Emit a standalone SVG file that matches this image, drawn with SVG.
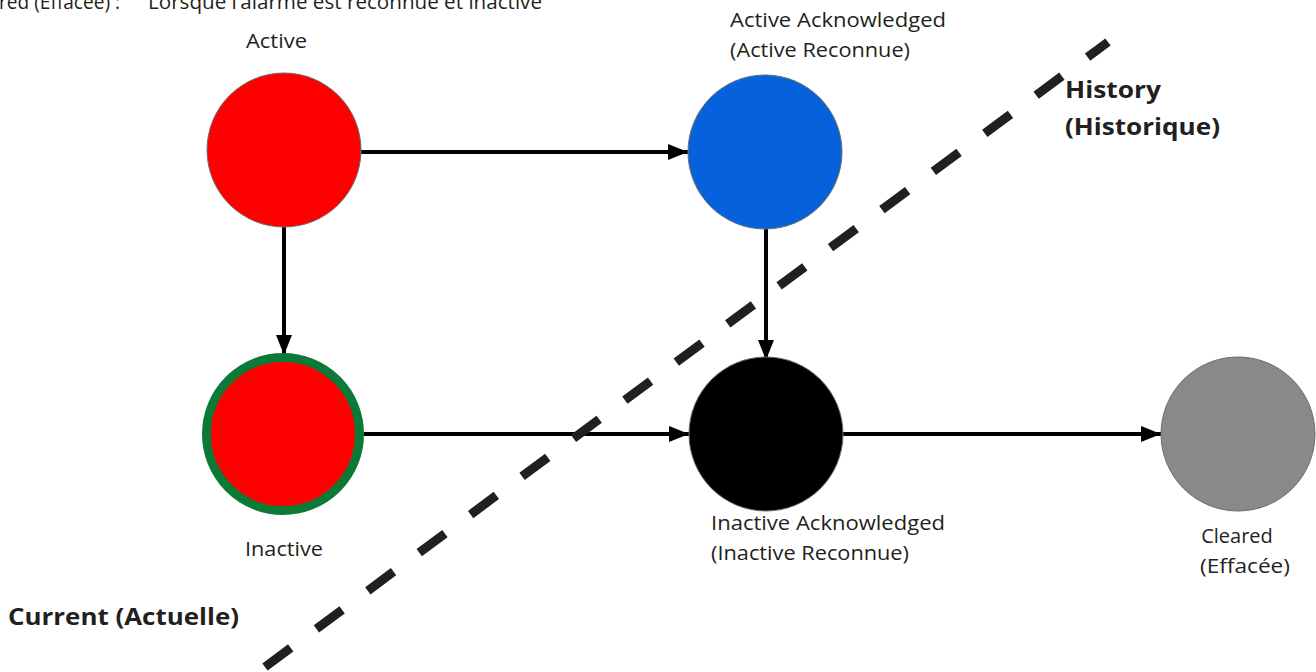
<svg xmlns="http://www.w3.org/2000/svg" width="1316" height="672" viewBox="0 0 1316 672">
  <style>
    .lbl { font-family: "Open Sans", "Noto Sans", sans-serif; font-size: 20px; fill: #231f20; }
    .bold { font-family: "Open Sans", "Noto Sans", sans-serif; font-size: 23px; font-weight: bold; fill: #231f20; }
    .node { stroke: #6d6d6d; stroke-width: 1; }
    .conn { stroke: #000; stroke-width: 4; fill: none; marker-end: url(#arrow); }
    .divider { stroke: #231f20; stroke-width: 9; fill: none; stroke-dasharray: 32 32; }
  </style>
  <defs>
    <marker id="arrow" markerUnits="userSpaceOnUse" markerWidth="22" markerHeight="18" refX="20" refY="8" orient="auto">
      <path d="M0,0 L20,8 L0,16 Z" fill="#000"/>
    </marker>
  </defs>
  <rect width="1316" height="672" fill="#fff"/>

  <text class="lbl" x="-1" y="9" textLength="121" lengthAdjust="spacingAndGlyphs">red (Effacée) :</text>
  <text class="lbl" x="148" y="9" textLength="394" lengthAdjust="spacingAndGlyphs">Lorsque l’alarme est reconnue et inactive</text>

  <g id="connectors">
    <line class="conn" x1="361" y1="152" x2="688" y2="152"/>
    <line class="conn" x1="284" y1="226" x2="284" y2="355"/>
    <line class="conn" x1="766" y1="227" x2="766" y2="360"/>
    <line class="conn" x1="364" y1="434" x2="689" y2="434"/>
    <line class="conn" x1="843" y1="434" x2="1161" y2="434"/>
  </g>

  <g id="divider">
    <line class="divider" x1="265" y1="667" x2="1108" y2="42"/>
  </g>

  <g id="node-active">
    <circle class="node" cx="284" cy="150" r="77" fill="#ff0000"/>
    <text class="lbl" x="246" y="48" textLength="61" lengthAdjust="spacingAndGlyphs">Active</text>
  </g>
  <g id="node-active-ack">
    <circle class="node" cx="765" cy="152" r="77" fill="#0562dc"/>
    <text class="lbl" x="730" y="27" textLength="216" lengthAdjust="spacingAndGlyphs">Active Acknowledged</text>
    <text class="lbl" x="730" y="57" textLength="180" lengthAdjust="spacingAndGlyphs">(Active Reconnue)</text>
  </g>
  <g id="node-inactive">
    <circle cx="283" cy="434" r="76.5" fill="#ff0000" stroke="#0a7a36" stroke-width="9"/>
    <text class="lbl" x="245" y="556" textLength="78" lengthAdjust="spacingAndGlyphs">Inactive</text>
  </g>
  <g id="node-inactive-ack">
    <circle class="node" cx="766" cy="434" r="77" fill="#000"/>
    <text class="lbl" x="711" y="530" textLength="234" lengthAdjust="spacingAndGlyphs">Inactive Acknowledged</text>
    <text class="lbl" x="711" y="560" textLength="198" lengthAdjust="spacingAndGlyphs">(Inactive Reconnue)</text>
  </g>
  <g id="node-cleared">
    <circle class="node" cx="1238" cy="434" r="77" fill="#898989"/>
    <text class="lbl" x="1237" y="543" text-anchor="middle">Cleared</text>
    <text class="lbl" x="1200" y="573" textLength="90" lengthAdjust="spacingAndGlyphs">(Effacée)</text>
  </g>

  <g id="label-history">
    <text class="bold" x="1065" y="98" textLength="96" lengthAdjust="spacingAndGlyphs">History</text>
    <text class="bold" x="1065" y="135" textLength="155" lengthAdjust="spacingAndGlyphs">(Historique)</text>
  </g>
  <g id="label-current">
    <text class="bold" x="8" y="625" textLength="231" lengthAdjust="spacingAndGlyphs">Current (Actuelle)</text>
  </g>
</svg>
